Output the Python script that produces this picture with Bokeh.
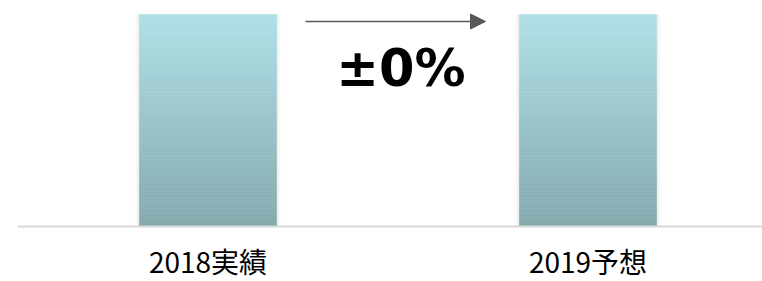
import numpy as np
from bokeh.plotting import figure
from bokeh.models import Range1d, Arrow, NormalHead, Span
from bokeh.core.properties import value
from bokeh.embed import file_html
from bokeh.resources import INLINE

# ---- data ----
categories = ["2018実績", "2019予想"]
values = [100, 100]
positions = [0, 1]

# ---- derived ----
vmax = max(values)
pct = (values[1] - values[0]) / values[0] * 100
change_label = "±0%" if round(pct) == 0 else f"{pct:+.0f}%"

top_rgb = np.array([176, 224, 230])
bot_rgb = np.array([132, 170, 174])

W, H = 762, 281
LEFT = 17
PX_PER_UNIT = 380.0
x_start = -190.5 / PX_PER_UNIT
x_end = x_start + (W - LEFT) / PX_PER_UNIT
bar_w = 137 / PX_PER_UNIT
PX_PER_Y = 212 / vmax           # bar height in px per data unit
y_start = -(H - 226) / PX_PER_Y
y_end = vmax + 14 / PX_PER_Y

p = figure(width=W, height=H, output_backend="svg", toolbar_location=None,
           x_range=Range1d(x_start, x_end), y_range=Range1d(y_start, y_end),
           min_border_left=LEFT, min_border_right=0, min_border_top=0,
           min_border_bottom=0)
p.outline_line_color = None
p.grid.visible = False
p.axis.visible = False
p.background_fill_color = "white"
p.border_fill_color = "white"

# soft shadow around bars
p.vbar(x=positions, top=values, width=bar_w + 8 / PX_PER_UNIT,
       fill_color="#000000", fill_alpha=0.025, line_color=None)
p.vbar(x=positions, top=values, width=bar_w + 4 / PX_PER_UNIT,
       fill_color="#000000", fill_alpha=0.04, line_color=None)

# gradient bars (strips)
N = 60
xs, bottoms, tops, colors = [], [], [], []
for xp, v in zip(positions, values):
    for i in range(N):
        t = (i + 0.5) / N
        c = bot_rgb + (top_rgb - bot_rgb) * t
        xs.append(xp)
        bottoms.append(v * i / N)
        tops.append(v * (i + 1) / N)
        colors.append("#%02x%02x%02x" % tuple(int(round(k)) for k in c))
p.vbar(x=xs, bottom=bottoms, top=tops, width=bar_w,
       fill_color=colors, line_color=colors, line_width=0.6)

# baseline
p.add_layout(Span(location=0, dimension="width", line_color="#d9d9d9",
                  line_width=2))

# arrow between bars
arrow_y = vmax * 0.967
p.add_layout(Arrow(x_start=positions[0] + 0.2566, y_start=arrow_y,
                   x_end=positions[1] - 0.2697, y_end=arrow_y,
                   end=NormalHead(size=15, fill_color="#595959",
                                  line_color="#595959"),
                   line_color="#595959", line_width=1.5))

# change label
p.text(x=[np.mean(positions)], y=[vmax * 0.743], text=[change_label],
       text_font=value("DejaVu Sans"), text_font_style="bold",
       text_font_size="51px", text_align="center", text_baseline="middle",
       text_color="#000000", x_offset=3)

# category labels
p.text(x=positions, y=[-vmax * 0.165] * len(positions), text=categories,
       text_font=value("Noto Sans CJK JP"), text_font_size="28px",
       text_align="center", text_baseline="middle", text_color="#000000")

open("out.html", "w").write(file_html(p, INLINE))
